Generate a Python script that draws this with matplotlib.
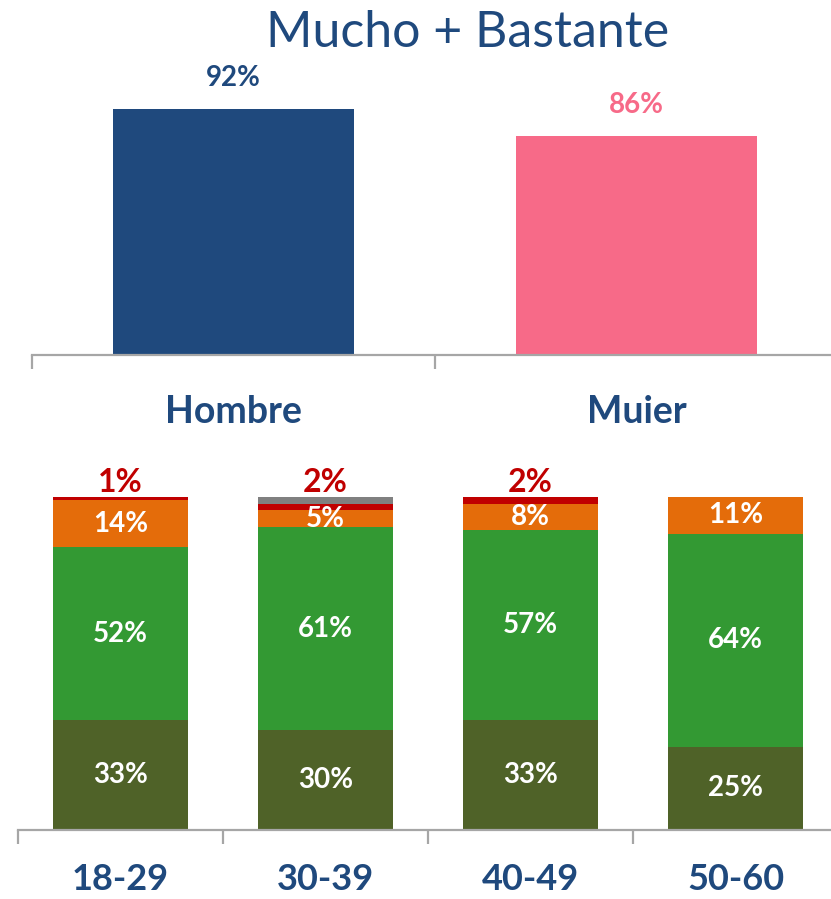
import numpy as np
import matplotlib.pyplot as plt

plt.rcParams['font.family'] = ['Lato', 'DejaVu Sans']

# top chart: Mucho + Bastante by gender
genders = ["Hombre", "Muier"]
mucho_bastante = [92, 86]
gender_colors = ["#1F497D", "#F76A88"]

# bottom chart: stacked by age group
ages = ["18-29", "30-39", "40-49", "50-60"]
seg_olive = [33, 30, 33, 25]
seg_green = [52, 61, 57, 64]
seg_orange = [14, 5, 8, 11]
seg_red = [1, 2, 2, 0]
seg_gray = [0, 2, 0, 0]

navy = "#1F497D"
axis_gray = "#A6A6A6"

W, H = 831, 899
fig = plt.figure(figsize=(W / 100, H / 100), dpi=100)


def px_axes(left, top, right, bottom):
    return fig.add_axes([left / W, 1 - bottom / H, (right - left) / W, (bottom - top) / H])


def style_axis(ax, n, pad):
    for s in ["top", "left", "right"]:
        ax.spines[s].set_visible(False)
    ax.spines["bottom"].set_color(axis_gray)
    ax.spines["bottom"].set_linewidth(1.6)
    ax.set_yticks([])
    ax.set_xlim(-0.5, n - 0.5)
    ax.set_xticks(np.arange(n + 1) - 0.5, minor=True)
    ax.tick_params(axis="x", which="minor", length=10, width=1.6, color=axis_gray)
    ax.tick_params(axis="x", which="major", length=0, pad=pad)


# ---- top chart
ax1 = px_axes(32, 60, 838, 355)
x1 = np.arange(len(genders))
bars = ax1.bar(x1, mucho_bastante, width=0.6, color=gender_colors)
ax1.set_ylim(37.3, 102.9)
style_axis(ax1, len(genders), 29)
ax1.set_xticks(x1)
ax1.set_xticklabels(genders, fontsize=27, fontweight="bold", color=navy)
for b, v, c in zip(bars, mucho_bastante, gender_colors):
    ax1.annotate(f"{v}%", (b.get_x() + b.get_width() / 2, v), xytext=(0, 13),
                 textcoords="offset points", ha="center", va="bottom",
                 fontsize=20, fontweight="bold", color=c)
fig.text(468 / W, 1 - 33 / H, "Mucho + Bastante", ha="center", va="center",
         fontsize=36, color=navy, fontweight="normal")

# ---- bottom chart
ax2 = px_axes(18, 497, 838, 830)
x2 = np.arange(len(ages))
bottom = np.zeros(len(ages))
segs = [(seg_olive, "#4F6228"), (seg_green, "#339933"), (seg_orange, "#E46C0A"),
        (seg_red, "#C00000"), (seg_gray, "#808080")]
for i, (vals, col) in enumerate(segs):
    cont = ax2.bar(x2, vals, width=0.66, bottom=bottom, color=col)
    if i < 3:
        ax2.bar_label(cont, labels=[f"{v}%" for v in vals], label_type="center",
                      fontsize=20, fontweight="bold", color="white")
    bottom = bottom + np.array(vals)
ax2.set_ylim(0, 100)
style_axis(ax2, len(ages), 24)
ax2.set_xticks(x2)
ax2.set_xticklabels(ages, fontsize=26, fontweight="bold", color=navy)
for xi, r, g, tot in zip(x2, seg_red, seg_gray, bottom):
    if r > 0:
        ax2.annotate(f"{r}%", (xi, tot), xytext=(0, 0), textcoords="offset points",
                     ha="center", va="bottom", fontsize=23, fontweight="bold",
                     color="#C00000")

fig.savefig("out.png", dpi=100)
